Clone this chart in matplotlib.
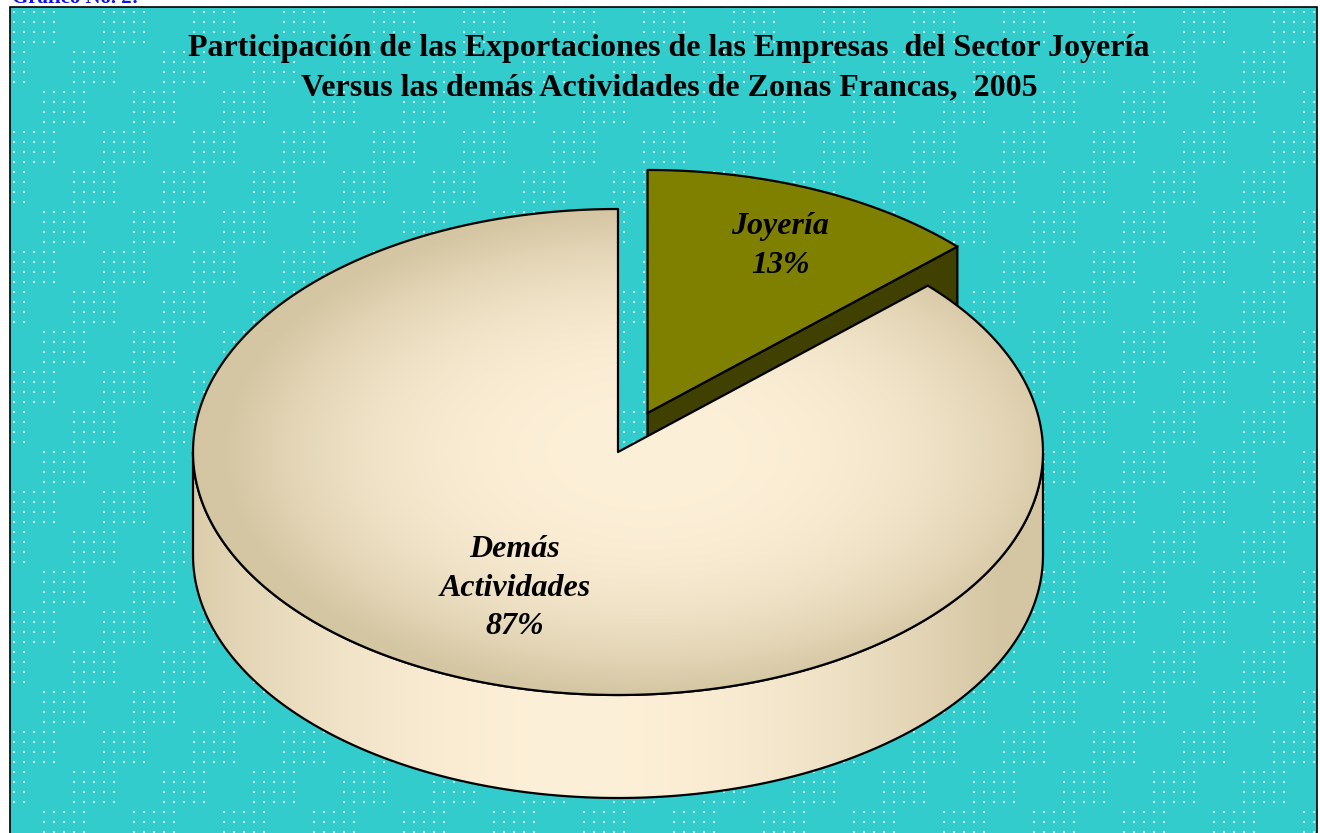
import numpy as np
import matplotlib
matplotlib.use("Agg")
import matplotlib.pyplot as plt
from matplotlib.patches import Polygon, Rectangle
from matplotlib.colors import to_rgb

# ---- data ----
categories = ["Joyería", "Demás\nActividades"]
shares = [13, 87]
labels_pct = ["13%", "87%"]
exploded = [True, False]
title_lines = ["Participación de las Exportaciones de las Empresas  del Sector Joyería",
               "Versus las demás Actividades de Zonas Francas,  2005"]

# ---- layout ----
W, H = 1320, 833
CX, CY, RX, RY, DEPTH = 618, 452, 425, 243, 103
EXPLODE = 0.175
LABEL_FRAC = [0.75, 0.61]

fig = plt.figure(figsize=(W / 100, H / 100), dpi=100, facecolor="white")
ax = fig.add_axes([0, 0, 1, 1])
ax.set_xlim(0, W)
ax.set_ylim(H, 0)
ax.axis("off")

# background panel
bg = Rectangle((10, 7), 1307, 830, facecolor="#33CCCC", edgecolor="black", lw=1.2, zorder=0)
ax.add_patch(bg)
# dotted texture
xs = np.arange(14, 1316, 10)
ys = np.arange(12, 833, 10)
gx, gy = np.meshgrid(xs, ys)
i = (gx - 14) // 10
j = (gy - 12) // 10
mask = ((i + 3 * (j // 4)) % 9) < 5
ax.scatter(gx[mask], gy[mask], s=1.6, marker="s", color="#C9F2F2", linewidths=0, zorder=1)

# partial header text (cut at top, as in the source)
ax.text(12, 3, "Gráfico No. 2:", color="#1010EE", fontsize=15, fontweight="bold",
        family="Liberation Serif", va="baseline", ha="left", zorder=5)

# ---- geometry from data ----
total = float(sum(shares))
angles = []
start = 90.0
for v in shares:
    sweep = 360.0 * v / total
    angles.append((start, start - sweep))
    start -= sweep


def ell(cx, cy, th_deg, dz=0.0):
    t = np.radians(th_deg)
    return np.column_stack([cx + RX * np.cos(t), cy - RY * np.sin(t) + dz])


def centre(k):
    a0, a1 = angles[k]
    if exploded[k]:
        mid = np.radians((a0 + a1) / 2)
        return CX + EXPLODE * RX * np.cos(mid), CY - EXPLODE * RY * np.sin(mid)
    return CX, CY


light = np.array(to_rgb("#FDF0D8"))
dark = np.array(to_rgb("#D4C6A2"))


def gradient_image(kind, cx, cy):
    x0, x1 = CX - RX - 5, CX + RX + 5
    y0, y1 = CY - RY - 5, CY + RY + DEPTH + 5
    xx, yy = np.meshgrid(np.linspace(x0, x1, 500), np.linspace(y0, y1, 400))
    if kind == "top":
        r = np.sqrt(((xx - cx) / RX) ** 2 + ((yy - cy) / RY) ** 2)
        t = np.clip(r, 0, 1) ** 2.6
    else:
        t = np.clip(np.abs(xx - (cx - 40)) / RX, 0, 1) ** 2.0
    img = light[None, None, :] * (1 - t[..., None]) + dark[None, None, :] * t[..., None]
    return img, (x0, x1, y1, y0)


def shaded_poly(pts, kind, cx, cy, z):
    poly = Polygon(pts, closed=True, facecolor="none", edgecolor="black", lw=1.6, zorder=z + 0.5,
                   joinstyle="round")
    ax.add_patch(poly)
    img, ext = gradient_image(kind, cx, cy)
    im = ax.imshow(img, extent=ext, origin="upper", zorder=z, interpolation="bilinear", aspect="auto")
    clip = Polygon(pts, closed=True, transform=ax.transData)
    im.set_clip_path(clip)


# Joyería (exploded) wedge: radial face + top
jx, jy = centre(0)
a0, a1 = angles[0]
rim = ell(jx, jy, a1)[0]
face = np.array([[jx, jy], rim, rim + [0, DEPTH], [jx, jy + DEPTH]])
ax.add_patch(Polygon(face, closed=True, facecolor="#404000", edgecolor="black", lw=1.6, zorder=3))
arc = ell(jx, jy, np.linspace(a0, a1, 80))
top = np.vstack([[jx, jy], arc])
ax.add_patch(Polygon(top, closed=True, facecolor="#808000", edgecolor="black", lw=1.6, zorder=3.2,
                     joinstyle="round"))

# Demás wedge: front side + top
dx, dy = centre(1)
b0, b1 = angles[1]
side_th = np.linspace(-180, 0, 200)
upper = ell(dx, dy, side_th)
lower = ell(dx, dy, side_th[::-1], DEPTH)
shaded_poly(np.vstack([upper, lower]), "side", dx, dy, 4)
arc2 = ell(dx, dy, np.linspace(b0, b1, 400))
shaded_poly(np.vstack([[dx, dy], arc2]), "top", dx + 30, dy, 5)

# labels
for k, (name, pct) in enumerate(zip(categories, labels_pct)):
    cx, cy = centre(k)
    mid = np.radians(sum(angles[k]) / 2)
    lx = cx + LABEL_FRAC[k] * RX * np.cos(mid) + (6 if k == 0 else 0)
    ly = cy - LABEL_FRAC[k] * RY * np.sin(mid)
    ax.text(lx, ly, name + "\n" + pct, ha="center", va="center", fontsize=23,
            family="Liberation Serif", fontweight="bold", fontstyle="italic",
            linespacing=1.45, zorder=8)

# title
ax.text(669, 48, title_lines[0], ha="center", va="center", fontsize=23,
        family="Liberation Serif", fontweight="bold", zorder=8)
ax.text(669, 88, title_lines[1], ha="center", va="center", fontsize=23,
        family="Liberation Serif", fontweight="bold", zorder=8)

fig.savefig("out.png", dpi=100, facecolor="white")
